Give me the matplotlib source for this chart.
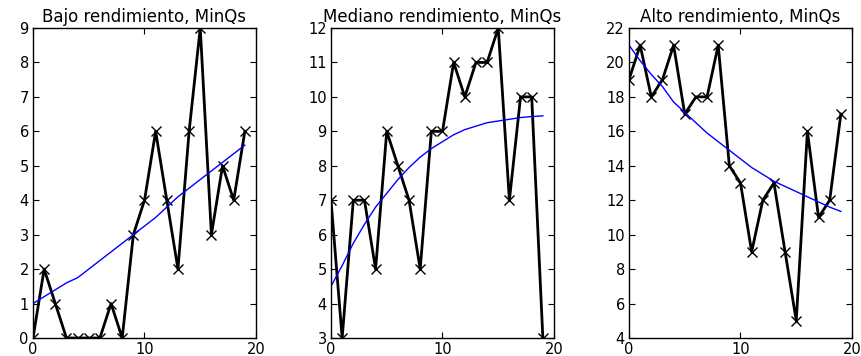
import matplotlib
matplotlib.use("Agg")
import matplotlib.pyplot as plt

x = list(range(20))

# observed counts per panel
bajo = [0, 2, 1, 0, 0, 0, 0, 1, 0, 3, 4, 6, 4, 2, 6, 9, 3, 5, 4, 6]
mediano = [7, 3, 7, 7, 5, 9, 8, 7, 5, 9, 9, 11, 10, 11, 11, 12, 7, 10, 10, 3]
alto = [19, 21, 18, 19, 21, 17, 18, 18, 21, 14, 13, 9, 12, 13, 9, 5, 16, 11, 12, 17]

# fitted curves
bajo_fit = [1.0, 1.2, 1.4, 1.6, 1.75, 2.0, 2.25, 2.5, 2.75, 3.0,
            3.25, 3.5, 3.8, 4.1, 4.35, 4.6, 4.85, 5.1, 5.35, 5.6]
mediano_fit = [4.5, 5.1, 5.75, 6.3, 6.8, 7.2, 7.6, 7.95, 8.25, 8.5,
               8.7, 8.9, 9.05, 9.15, 9.25, 9.3, 9.35, 9.4, 9.43, 9.45]
alto_fit = [21.0, 20.1, 19.3, 18.6, 17.7, 17.1, 16.5, 15.9, 15.4, 14.9,
            14.4, 13.9, 13.5, 13.1, 12.8, 12.5, 12.2, 11.9, 11.6, 11.35]

titles = ["Bajo rendimiento, MinQs", "Mediano rendimiento, MinQs", "Alto rendimiento, MinQs"]
ylims = [(0, 9), (3, 12), (4, 22)]
yticks = [range(0, 10), range(3, 13), range(4, 23, 2)]

plt.rcParams['font.family'] = ['DejaVu Sans']

fig = plt.figure(figsize=(8.62, 3.56), dpi=100)
W, H = 862.0, 356.0
lefts = [33, 331, 629]
width = 223
top, bottom = 28, 338

for i, (obs, fit) in enumerate([(bajo, bajo_fit), (mediano, mediano_fit), (alto, alto_fit)]):
    ax = fig.add_axes([lefts[i] / W, 1 - bottom / H, width / W, (bottom - top) / H])
    ax.plot(x, obs, color='black', lw=2, marker='x', ms=7, mew=1)
    ax.plot(x, fit, color='blue', lw=1)
    ax.set_xlim(0, 20)
    ax.set_ylim(*ylims[i])
    ax.set_xticks([0, 10, 20])
    ax.set_yticks(list(yticks[i]))
    ax.tick_params(direction='in', top=True, right=True, length=4, labelsize=10.5, pad=3)
    ax.set_title(titles[i], fontsize=12, pad=4)
    for s in ax.spines.values():
        s.set_linewidth(1)

fig.savefig("out.png", dpi=100)
